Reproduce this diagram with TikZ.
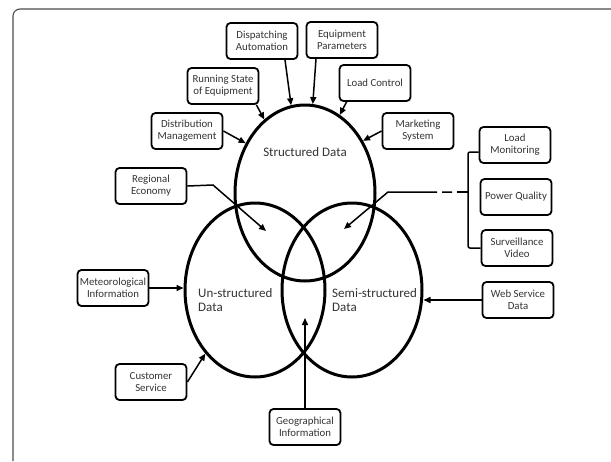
\documentclass[tikz,border=0pt]{standalone}
\usepackage{fontspec}
\setmainfont{Carlito}
\usetikzlibrary{shapes.geometric,arrows.meta}
\tikzset{
  databox/.style={draw, line width=1.8pt, rounded corners=4pt, minimum width=71pt, minimum height=36pt, inner sep=1pt, align=center, text=black!80, font=\fontsize{10.8}{12}\selectfont},
  dataset/.style={draw, ellipse, line width=3pt, minimum width=140pt, inner sep=0pt},
  setlabel/.style={text=black!80, font=\fontsize{13}{14}\selectfont, inner sep=0pt, align=left},
  feed/.style={line width=1.5pt, -{Triangle[length=7pt,width=6pt]}},
  brace/.style={line width=1.5pt, rounded corners=2pt},
  frame/.style={line width=1.1pt, draw=black!70, rounded corners=7pt}
}
\newcommand{\DataBox}[4][]{\node[databox,#1] (#2) at (#3) {#4};}
\newcommand{\DataSet}[3][]{\node[dataset,#1] (#2) at (#3) {};}
\newcommand{\Feed}[3][]{\draw[feed,#1] (#2) -- (#3);}

\begin{document}
\begin{tikzpicture}[x=1pt,y=-1pt]
\useasboundingbox (0,0) rectangle (611,461);
\coordinate (frame-bl) at (13,461);
\coordinate (frame-tr) at (611,9);
\draw[frame] (frame-bl) |- (frame-tr);

	\DataSet[minimum height=176pt]{S}{305,193}
	\DataSet[minimum height=174pt]{U}{255,290}
	\DataSet[minimum height=174pt]{M}{352,290}
	\node[setlabel] (S-label) at (305,152) {Structured Data};
	\node[setlabel, anchor=west] (U-label) at (198,300) {Un-structured\\Data};
	\node[setlabel, anchor=west] (M-label) at (332,300) {Semi-structured\\Data};

	\DataBox{DA}{262,41}{Dispatching\\Automation}
	\DataBox{EP}{342,40}{Equipment\\Parameters}
	\DataBox{RS}{223,86}{Running State\\of Equipment}
	\DataBox{LC}{375,83}{Load Control}
	\DataBox{DM}{187,131}{Distribution\\Management}
	\DataBox{MS}{418,131}{Marketing\\System}
	\DataBox{RE}{151,186}{Regional\\Economy}
	\DataBox{MI}{113,288}{Meteorological\\Information}
	\DataBox{CS}{151,382}{Customer\\Service}
	\DataBox{GI}{305,427}{Geographical\\Information}
	\DataBox{LM}{515,145}{Load\\Monitoring}
	\DataBox{PQ}{516,197}{Power Quality}
	\DataBox{SV}{517,248}{Surveillance\\Video}
	\DataBox{WS}{518,300}{Web Service\\Data}

	\coordinate (re-bend) at (213,185);
	\coordinate (re-end) at (266,231);
	\coordinate (gi-end) at (305,318);
	\coordinate (br) at (468,192);
	\coordinate (br-tip) at (457,192);
	\coordinate (pq-bend) at (388,192);
	\coordinate (pq-end) at (344,229);

	\Feed{[xshift=23pt]DA.south}{S.99}
	\Feed{[xshift=-26pt]EP.south}{S.85}
	\Feed{[xshift=-3pt]RS.south east}{S.119}
	\Feed{[xshift=8pt]LC.south west}{S.66}
	\Feed{DM.east}{S.140}
	\Feed{MS.west}{S.42}
	\draw[feed] (RE.east) -- (re-bend) -- (re-end);
	\Feed{MI.east}{MI.east -| U.west}
	\Feed{CS.east}{U.232}
	\Feed{GI}{gi-end}
	\Feed{WS.west}{WS.west -| M.east}
	\draw[brace] ([yshift=-7pt]LM.west) -| (br) |- (SV.west);
	\draw[brace] (br) -- (br-tip);
	\draw[feed, dash pattern=on 0pt off 5pt on 10pt off 5pt on 300pt] (br-tip) -- (pq-bend) -- (pq-end);

\end{tikzpicture}
\end{document}
